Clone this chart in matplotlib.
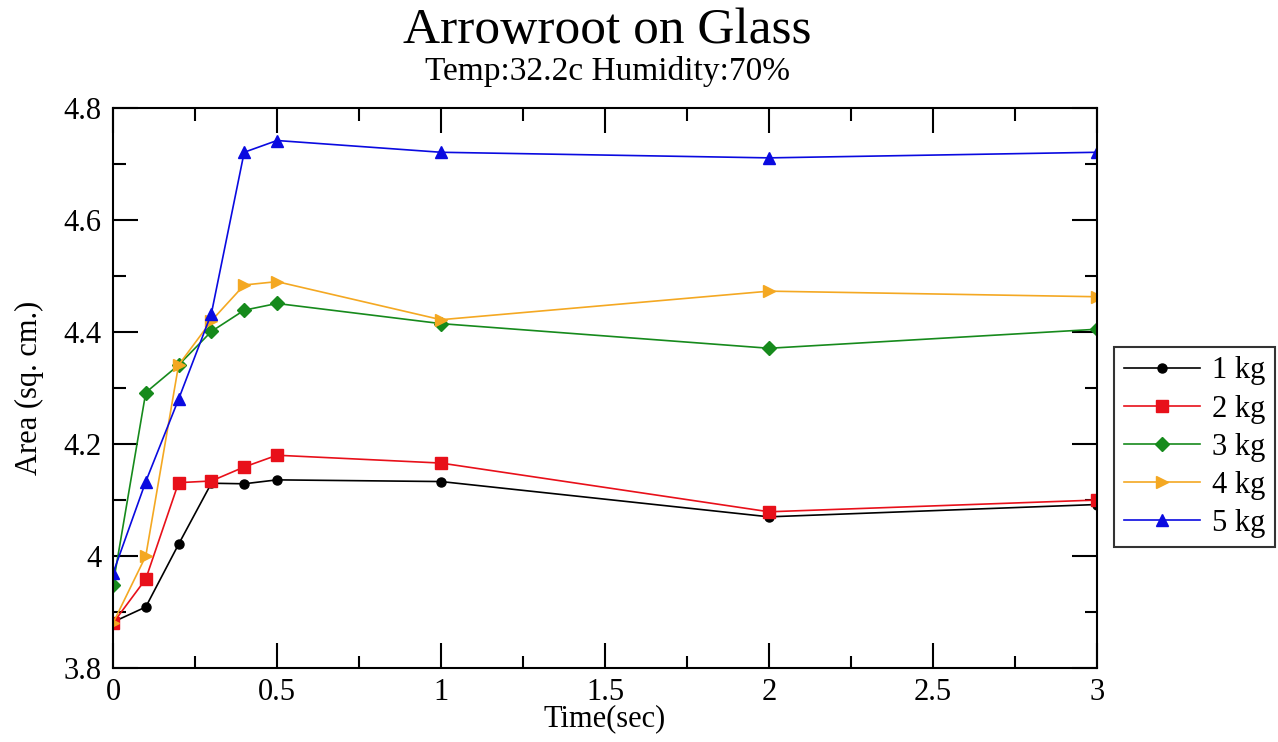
import numpy as np
import matplotlib
matplotlib.use("Agg")
import matplotlib.pyplot as plt
from matplotlib.ticker import MultipleLocator

plt.rcParams['font.family'] = ['Liberation Serif', 'DejaVu Serif']

# Data
time = [0, 0.1, 0.2, 0.3, 0.4, 0.5, 1, 2, 3]
area_1kg = [3.882, 3.909, 4.021, 4.130, 4.129, 4.136, 4.133, 4.070, 4.092]
area_2kg = [3.880, 3.959, 4.131, 4.134, 4.159, 4.180, 4.166, 4.079, 4.100]
area_3kg = [3.948, 4.292, 4.341, 4.401, 4.439, 4.451, 4.415, 4.371, 4.405]
area_4kg = [3.880, 4.000, 4.341, 4.420, 4.484, 4.490, 4.422, 4.473, 4.463]
area_5kg = [3.969, 4.133, 4.280, 4.433, 4.721, 4.742, 4.721, 4.711, 4.721]

labels = ["1 kg", "2 kg", "3 kg", "4 kg", "5 kg"]
series = [area_1kg, area_2kg, area_3kg, area_4kg, area_5kg]
colors = ["black", "#e8101a", "#168a1c", "#f4a822", "#0a0ae0"]
markers = ["o", "s", "D", ">", "^"]
msizes = [6.5, 8, 7.5, 9, 9]

fig = plt.figure(figsize=(12.78, 7.42), dpi=100)
ax = fig.add_axes([0.0884, 0.0997, 0.7700, 0.7547])

for y, lab, c, m, ms in zip(series, labels, colors, markers, msizes):
    ax.plot(time, y, color=c, marker=m, markersize=ms, linewidth=1.2, label=lab)

ax.set_xlim(0, 3)
ax.set_ylim(3.8, 4.8)
ax.xaxis.set_minor_locator(MultipleLocator(0.25))
ax.yaxis.set_minor_locator(MultipleLocator(0.1))
ax.set_xticks([0, 0.5, 1, 1.5, 2, 2.5, 3])
ax.set_xticklabels(["0", "0.5", "1", "1.5", "2", "2.5", "3"])
ax.set_yticks([3.8, 4.0, 4.2, 4.4, 4.6, 4.8])
ax.set_yticklabels(["3.8", "4", "4.2", "4.4", "4.6", "4.8"])
ax.tick_params(which='major', direction='in', length=18, width=1.5,
               top=True, right=True, labelsize=22)
ax.tick_params(axis='x', which='major', pad=7)
ax.tick_params(axis='y', which='major', pad=8)
ax.tick_params(which='minor', direction='in', length=9, width=1.5,
               top=True, right=True)
for s in ax.spines.values():
    s.set_linewidth(1.5)

ax.set_xlabel("Time(sec)", fontsize=22, labelpad=-2)
ax.set_ylabel("Area (sq. cm.)", fontsize=22, labelpad=14)

fig.text(0.475, 0.958, "Arrowroot on Glass", fontsize=37, ha='center', va='center')
fig.text(0.475, 0.903, "Temp:32.2c Humidity:70%", fontsize=24, ha='center', va='center')

leg = fig.legend(loc='upper left', bbox_to_anchor=(0.872, 0.532), fontsize=22,
                 frameon=True, fancybox=False, edgecolor='black',
                 handlelength=2.5, handletextpad=0.4, borderpad=0.3,
                 labelspacing=0.3, borderaxespad=0)
leg.get_frame().set_linewidth(1.5)

fig.savefig("out.png", dpi=100)
